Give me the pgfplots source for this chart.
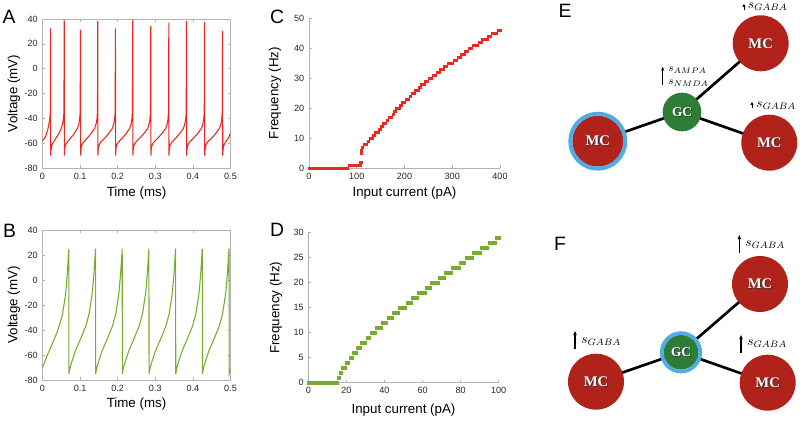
\documentclass[border=0pt]{standalone}
\usepackage{fontspec}
\setmainfont{Liberation Sans}
\newfontfamily\mcfont{Liberation Serif}
\usepackage{pgfplots}
\pgfplotsset{compat=1.18}
\usetikzlibrary{arrows.meta}
\definecolor{mred}{RGB}{238,38,30}
\definecolor{mgreen}{RGB}{119,172,48}
\definecolor{mcred}{RGB}{176,34,26}
\definecolor{gcgreen}{RGB}{46,125,55}
\definecolor{ringblue}{RGB}{80,172,230}
\pgfplotsset{
  base/.style={
    scale only axis,
    anchor=south west,
    tick align=inside,
    major tick length=2.2pt,
    axis line style={draw=gray!60, line width=0.5pt,-},
    every tick/.style={draw=gray!60, line width=0.4pt},
    tick label style={font=\fontsize{6.8}{8}\selectfont, text=black!85},
    label style={font=\fontsize{10}{12}\selectfont, text=black},
    /pgf/number format/assume math mode=true,
    /pgf/number format/fixed,
    scaled ticks=false,
  },
  boxoff/.style={
    axis x line*=bottom, axis y line*=left,
    every outer x axis line/.append style={-},
    every outer y axis line/.append style={-},
    clip=false,
  }
}
\newcommand{\mclabel}[4]{%
  \node[font=\mcfont\bfseries\fontsize{#4}{12}\selectfont, text=black!80] at (#1+0.9,#2-0.9) {#3};
  \node[font=\mcfont\bfseries\fontsize{#4}{12}\selectfont, text=white] at (#1,#2) {#3};}
\begin{document}
\begin{tikzpicture}[x=0.75pt,y=0.75pt]
\path[use as bounding box] (0,0) rectangle (800,422);

% ---------------- A ----------------
\begin{axis}[base, at={(31.875pt,190.5pt)}, width=141pt, height=111.75pt,
  xmin=0, xmax=0.5, ymin=-80, ymax=40,
  xtick={0,0.1,0.2,0.3,0.4,0.5}, ytick={-80,-60,-40,-20,0,20,40},
  xlabel={Time (ms)}, ylabel={Voltage (mV)},
  xlabel style={at={(axis description cs:0.5,-0.171)}, anchor=center},
  ylabel style={at={(axis description cs:-0.152,0.5)}, anchor=center}]
\addplot[mred, line width=0.8pt] coordinates {
(0,-58) (0.008,-55) (0.014,-49) (0.0175,-44) (0.0195,-40) (0.0207,-35) (0.0215,32.5)
(0.0219,-70) (0.0225,-66) (0.0237,-63) (0.0257,-61) (0.0299,-59) (0.0345,-56.5) (0.0434,-52.5) (0.0498,-48) (0.0538,-44) (0.0558,-40) (0.0570,-35) (0.0578,38.8)
(0.0582,-70) (0.0588,-66) (0.0600,-63) (0.0620,-61) (0.0662,-59) (0.0732,-56.5) (0.0839,-52.5) (0.093,-48) (0.097,-44) (0.099,-40) (0.1002,-35) (0.101,31.5)
(0.1014,-70) (0.1020,-66) (0.1032,-63) (0.1052,-61) (0.1094,-59) (0.1174,-56.5) (0.1288,-52.5) (0.139,-48) (0.143,-44) (0.145,-40) (0.1462,-35) (0.147,38.2)
(0.1474,-70) (0.1480,-66) (0.1492,-63) (0.1512,-61) (0.1554,-59) (0.1637,-56.5) (0.1754,-52.5) (0.186,-48) (0.190,-44) (0.192,-40) (0.1932,-35) (0.194,32.5)
(0.1944,-70) (0.1950,-66) (0.1962,-63) (0.1982,-61) (0.2024,-59) (0.2104,-56.5) (0.2218,-52.5) (0.232,-48) (0.236,-44) (0.238,-40) (0.2392,-35) (0.240,38.8)
(0.2404,-70) (0.2410,-66) (0.2422,-63) (0.2442,-61) (0.2484,-59) (0.2571,-56.5) (0.2690,-52.5) (0.280,-48) (0.284,-44) (0.286,-40) (0.2872,-35) (0.288,34.5)
(0.2884,-70) (0.2890,-66) (0.2902,-63) (0.2922,-61) (0.2964,-59) (0.3051,-56.5) (0.3170,-52.5) (0.328,-48) (0.332,-44) (0.334,-40) (0.3352,-35) (0.336,37)
(0.3364,-70) (0.3370,-66) (0.3382,-63) (0.3402,-61) (0.3444,-59) (0.3527,-56.5) (0.3644,-52.5) (0.375,-48) (0.379,-44) (0.381,-40) (0.3822,-35) (0.383,38.2)
(0.3834,-70) (0.3840,-66) (0.3852,-63) (0.3872,-61) (0.3914,-59) (0.4001,-56.5) (0.4120,-52.5) (0.423,-48) (0.427,-44) (0.429,-40) (0.4302,-35) (0.431,37.5)
(0.4314,-70) (0.4320,-66) (0.4332,-63) (0.4352,-61) (0.4394,-59) (0.4481,-56.5) (0.4600,-52.5) (0.471,-48) (0.475,-44) (0.477,-40) (0.4782,-35) (0.479,30.5)
(0.4794,-70) (0.4800,-66) (0.4812,-63) (0.4832,-61) (0.4874,-59) (0.4940,-56) (0.5,-52)
};
\end{axis}

% ---------------- B ----------------
\begin{axis}[base, at={(31.875pt,31.5pt)}, width=141pt, height=112.5pt,
  xmin=0, xmax=0.5, ymin=-80, ymax=40,
  xtick={0,0.1,0.2,0.3,0.4,0.5}, ytick={-80,-60,-40,-20,0,20,40},
  xlabel={Time (ms)}, ylabel={Voltage (mV)},
  xlabel style={at={(axis description cs:0.5,-0.157)}, anchor=center},
  ylabel style={at={(axis description cs:-0.152,0.5)}, anchor=center}]
\addplot[mgreen, line width=0.8pt] coordinates {
(0,-70) (0.013,-60) (0.026,-51) (0.040,-41) (0.053,-28) (0.0615,-11) (0.066,5) (0.070,25)
(0.0704,-75) (0.0734,-70) (0.0794,-64) (0.0884,-56) (0.1014,-47) (0.115,-37) (0.124,-27) (0.1325,-10) (0.137,6) (0.141,25)
(0.1414,-75) (0.1444,-70) (0.1504,-64) (0.1594,-56) (0.1724,-47) (0.186,-37) (0.195,-27) (0.2035,-10) (0.208,6) (0.212,25)
(0.2124,-75) (0.2154,-70) (0.2214,-64) (0.2304,-56) (0.2434,-47) (0.257,-37) (0.266,-27) (0.2745,-10) (0.279,6) (0.283,25)
(0.2834,-75) (0.2864,-70) (0.2924,-64) (0.3014,-56) (0.3144,-47) (0.328,-37) (0.337,-27) (0.3455,-10) (0.350,6) (0.354,25)
(0.3544,-75) (0.3574,-70) (0.3634,-64) (0.3724,-56) (0.3854,-47) (0.399,-37) (0.408,-27) (0.4165,-10) (0.421,6) (0.425,25)
(0.4254,-75) (0.4284,-70) (0.4344,-64) (0.4434,-56) (0.4564,-47) (0.470,-37) (0.479,-27) (0.4875,-10) (0.492,6) (0.496,25)
(0.4964,-75) (0.5,-71)
};
\end{axis}

% ---------------- C ----------------
\begin{axis}[base, boxoff, at={(231.75pt,190.5pt)}, width=143.25pt, height=112.3pt,
  xmin=0, xmax=400, ymin=0, ymax=50,
  xtick={0,100,200,300,400}, ytick={0,10,20,30,40,50},
  xlabel={Input current (pA)}, ylabel={Frequency (Hz)},
  xlabel style={at={(axis description cs:0.5,-0.167)}, anchor=center},
  ylabel style={at={(axis description cs:-0.178,0.5)}, anchor=center}]
\addplot[only marks, mark=square*, mark size=0.9pt, color=mred] table {
x y
0 0
4 0
8 0
12 0
16 0
20 0
24 0
28 0
32 0
36 0
40 0
44 0
48 0
52 0
56 0
60 0
64 0
68 0
72 0
76 0
80 0
84 1
88 1
92 1
96 1
100 1
104 1
107 1
108 2
109 5
110 6
112 7
116 8
120 8
124 9
128 10
132 10
136 11
140 12
144 12
148 13
152 14
156 15
160 15
164 16
168 17
172 17
176 18
180 19
184 20
188 20
192 21
196 22
200 22
204 23
208 23
212 24
216 25
220 25
224 26
228 26
232 27
236 28
240 28
244 29
248 29
252 30
256 30
260 31
264 31
268 32
272 32
276 33
280 33
284 34
288 34
292 35
296 35
300 35
304 36
308 36
312 37
316 37
320 38
324 38
328 39
332 39
336 40
340 40
344 41
348 41
352 41
356 42
360 42
364 43
368 43
372 43
376 44
380 44
384 45
388 45
392 45
396 46
400 46
};
\end{axis}

% ---------------- D ----------------
\begin{axis}[base, boxoff, at={(231.225pt,29.475pt)}, width=142.8pt, height=112.5pt,
  xmin=0, xmax=100, ymin=0, ymax=30,
  xtick={0,20,40,60,80,100}, ytick={0,5,10,15,20,25,30},
  xlabel={Input current (pA)}, ylabel={Frequency (Hz)},
  xlabel style={at={(axis description cs:0.5,-0.185)}, anchor=center},
  ylabel style={at={(axis description cs:-0.17,0.5)}, anchor=center}]
\addplot[only marks, mark=square*, mark size=1pt, color=mgreen] table {
x y
0 0
1 0
2 0
3 0
4 0
5 0
6 0
7 0
8 0
9 0
10 0
11 0
12 0
13 0
14 0
15 0
16 1
17 2
18 3
19 3
20 4
21 4
22 5
23 5
24 6
25 6
26 7
27 7
28 8
29 8
30 8
31 9
32 9
33 10
34 10
35 10
36 11
37 11
38 11
39 12
40 12
41 12
42 13
43 13
44 13
45 14
46 14
47 14
48 15
49 15
50 15
51 15
52 16
53 16
54 16
55 17
56 17
57 17
58 18
59 18
60 18
61 18
62 19
63 19
64 19
65 20
66 20
67 20
68 20
69 21
70 21
71 21
72 22
73 22
74 22
75 22
76 23
77 23
78 23
79 23
80 24
81 24
82 24
83 25
84 25
85 25
86 25
87 26
88 26
89 26
90 26
91 27
92 27
93 27
94 27
95 28
96 28
97 28
98 28
99 29
100 29
};
\end{axis}

% ---------------- panel letters ----------------
\node[font=\fontsize{14.5}{16}\selectfont] at (9,405) {A};
\node[font=\fontsize{14.5}{16}\selectfont] at (9.5,191.5) {B};
\node[font=\fontsize{14.5}{16}\selectfont] at (277,405) {C};
\node[font=\fontsize{14.5}{16}\selectfont] at (277,192) {D};
\node[font=\fontsize{14.5}{16}\selectfont] at (565,411) {E};
\node[font=\fontsize{14.5}{16}\selectfont] at (560,178) {F};

% ---------------- E diagram ----------------
\draw[line width=2pt] (597.8,280.8) -- (682,310) -- (760.7,378.7);
\draw[line width=2pt] (682,310) -- (769.3,279.3);
\fill[mcred] (597.8,280.8) circle[radius=19.1pt];
\draw[ringblue, line width=3pt] (597.8,280.8) circle[radius=20.6pt];
\fill[mcred] (760.7,378.7) circle[radius=21pt];
\fill[mcred] (769.3,279.3) circle[radius=21pt];
\fill[gcgreen] (682,310) circle[radius=14.5pt];
\mclabel{597.8}{280.8}{MC}{11}
\mclabel{760.7}{378.7}{MC}{11}
\mclabel{769.3}{279.3}{MC}{11}
\mclabel{682}{310}{GC}{10}
\draw[line width=0.7pt, -{Latex[length=3pt,width=2.6pt]}] (662.7,337) -- (662.7,355.5);
\node[anchor=west, inner sep=0, font=\fontsize{8.2}{9}\selectfont] at (668,352) {$s_{AMPA}$};
\node[anchor=west, inner sep=0, font=\fontsize{8.2}{9}\selectfont] at (668,339) {$s_{NMDA}$};
\draw[line width=0.7pt, -{Latex[length=2.6pt,width=2.6pt]}] (744,411.5) -- (744,418.5);
\node[anchor=west, inner sep=0, font=\fontsize{10}{11}\selectfont] at (747.5,415) {$s_{GABA}$};
\draw[line width=0.7pt, -{Latex[length=2.6pt,width=2.6pt]}] (752,313.5) -- (752,320.5);
\node[anchor=west, inner sep=0, font=\fontsize{10}{11}\selectfont] at (756,316) {$s_{GABA}$};

% ---------------- F diagram ----------------
\draw[line width=2pt] (596,40.3) -- (681,69.7) -- (760,138);
\draw[line width=2pt] (681,69.7) -- (767.7,39.3);
\fill[mcred] (596,40.3) circle[radius=21pt];
\fill[mcred] (760,138) circle[radius=21pt];
\fill[mcred] (767.7,39.3) circle[radius=21pt];
\fill[gcgreen] (681,69.7) circle[radius=13pt];
\draw[ringblue, line width=2.8pt] (681,69.7) circle[radius=14.4pt];
\mclabel{596}{40.3}{MC}{11}
\mclabel{760}{138}{MC}{11}
\mclabel{767.7}{39.3}{MC}{11}
\mclabel{681}{69.7}{GC}{10}
\draw[line width=0.8pt, -{Latex[length=3.5pt,width=3pt]}] (739.3,169) -- (739.3,187.5);
\node[anchor=west, inner sep=0, font=\fontsize{10}{11}\selectfont] at (745,177) {$s_{GABA}$};
\draw[line width=0.8pt, -{Latex[length=3.5pt,width=3pt]}] (575,73) -- (575,91.5);
\node[anchor=west, inner sep=0, font=\fontsize{10}{11}\selectfont] at (581,80) {$s_{GABA}$};
\draw[line width=0.8pt, -{Latex[length=3.5pt,width=3pt]}] (741,69) -- (741,87.5);
\node[anchor=west, inner sep=0, font=\fontsize{10}{11}\selectfont] at (747,78) {$s_{GABA}$};
\end{tikzpicture}
\end{document}
